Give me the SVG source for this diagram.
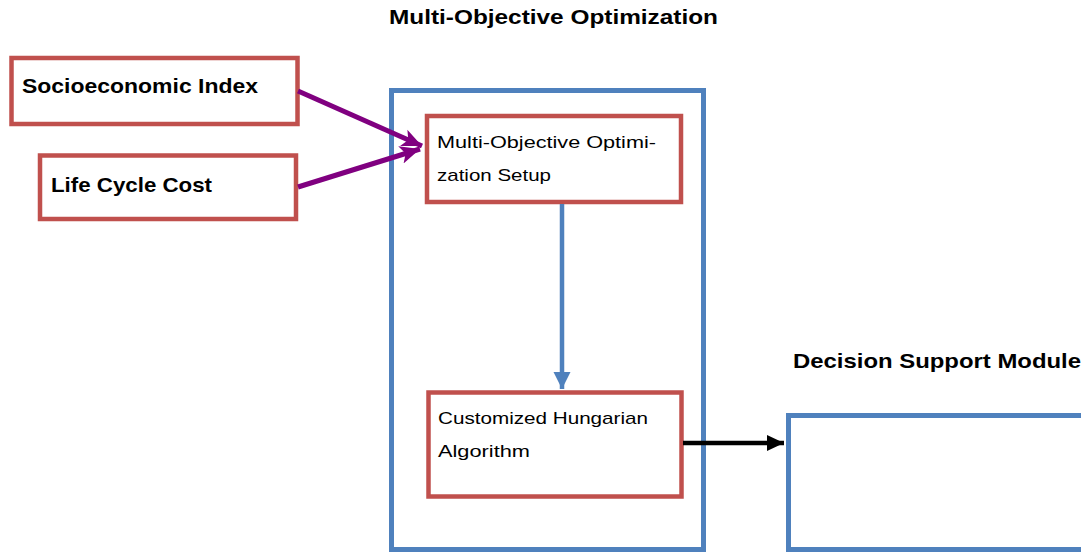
<svg xmlns="http://www.w3.org/2000/svg" width="1081" height="552" viewBox="0 0 1081 552">
<style>
.red{fill:#fff;stroke:#C0504D;stroke-width:4.5}
.blue{fill:none;stroke:#4F81BD;stroke-width:5}
.t{font-family:"Liberation Sans",Arial,sans-serif;fill:#000}
.b{font-weight:bold;font-size:21px}
.n{font-size:17px}
</style>
<defs>
<marker id="mp" markerUnits="userSpaceOnUse" markerWidth="22" markerHeight="22" refX="20" refY="11" orient="auto" viewBox="0 0 22 22"><path d="M0,2 L20,11 L0,20 L5,11 Z" fill="#800080"/></marker>
<marker id="mb" markerUnits="userSpaceOnUse" markerWidth="18" markerHeight="18" refX="17" refY="9" orient="auto" viewBox="0 0 18 18"><path d="M0,0.5 L17,9 L0,17.5 Z" fill="#4F81BD"/></marker>
<marker id="mk" markerUnits="userSpaceOnUse" markerWidth="18" markerHeight="18" refX="17" refY="9" orient="auto" viewBox="0 0 18 18"><path d="M0,1 L17,9 L0,17 Z" fill="#000"/></marker>
</defs>
<rect width="1081" height="552" fill="#fff"/>
<g id="title"><text class="t b" x="389" y="24" textLength="329" lengthAdjust="spacingAndGlyphs">Multi-Objective Optimization</text></g>
<g id="mo-container"><rect class="blue" x="391.5" y="90.5" width="312" height="459"/></g>
<g id="socio"><rect class="red" x="11.5" y="58" width="286" height="66"/><text class="t b" x="22" y="93" textLength="236" lengthAdjust="spacingAndGlyphs">Socioeconomic Index</text></g>
<g id="lcc"><rect class="red" x="40" y="155.5" width="256" height="63.5"/><text class="t b" x="51" y="192" textLength="161" lengthAdjust="spacingAndGlyphs">Life Cycle Cost</text></g>
<g id="setup"><rect class="red" x="427" y="116" width="254" height="86"/><text class="t n" x="437" y="148" textLength="219" lengthAdjust="spacingAndGlyphs">Multi-Objective Optimi-</text><text class="t n" x="437" y="181" textLength="114" lengthAdjust="spacingAndGlyphs">zation Setup</text></g>
<g id="hungarian"><rect class="red" x="428.5" y="392.5" width="253" height="104"/><text class="t n" x="438" y="424" textLength="210" lengthAdjust="spacingAndGlyphs">Customized Hungarian</text><text class="t n" x="438" y="457" textLength="92" lengthAdjust="spacingAndGlyphs">Algorithm</text></g>
<g id="dsm"><text class="t b" x="793" y="368" textLength="288" lengthAdjust="spacingAndGlyphs">Decision Support Module</text><rect class="blue" x="788.5" y="415.5" width="300" height="134"/></g>
<g id="connectors">
<line x1="298" y1="91" x2="422" y2="146" stroke="#800080" stroke-width="5" marker-end="url(#mp)"/>
<line x1="298" y1="187" x2="420" y2="149" stroke="#800080" stroke-width="5" marker-end="url(#mp)"/>
<line x1="562" y1="204" x2="562" y2="389" stroke="#4F81BD" stroke-width="4.5" marker-end="url(#mb)"/>
<line x1="683" y1="443" x2="784" y2="443" stroke="#000" stroke-width="4.5" marker-end="url(#mk)"/>
</g>
</svg>
